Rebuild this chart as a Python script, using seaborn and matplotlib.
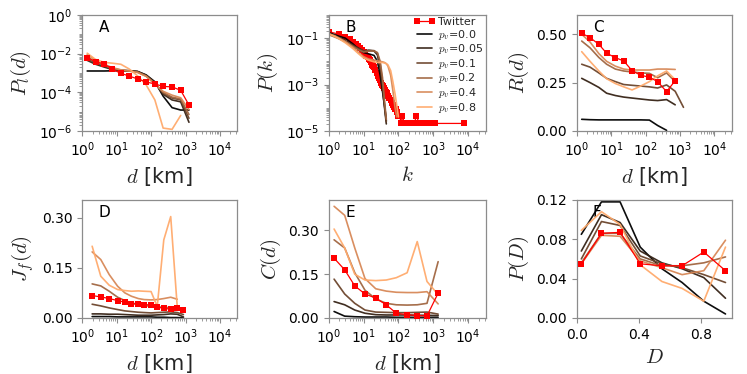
import numpy as np
import matplotlib
matplotlib.use("Agg")
import matplotlib.pyplot as plt
import seaborn as sns
from matplotlib.ticker import LogLocator, NullFormatter

# ---- data ----
pv_labels = ["0.0", "0.05", "0.1", "0.2", "0.4", "0.8"]

# A: link length distribution P_l(d)
dA = [1.4, 2.44, 4.4, 7.4, 13.3, 23.2, 40.5, 72, 129, 224, 407, 724, 1260]
twA = [6.2e-3, 3.8e-3, 2.9e-3, 1.6e-3, 9.5e-4, 6.9e-4, 4.9e-4, 3.4e-4, 2.7e-4, 2.0e-4, 1.9e-4, 1.26e-4, 2.2e-5]
mA_00 = [1.26e-3, 1.26e-3, 1.26e-3, 1.29e-3, 1.32e-3, 1.32e-3, 1.2e-3, 7.9e-4, 3.5e-4, 6.3e-5, 1.6e-5, 1.2e-5, 1.2e-5]
mA_005 = [4.47e-3, 2.82e-3, 2.0e-3, 1.51e-3, 1.32e-3, 1.26e-3, 1.17e-3, 7.6e-4, 3.2e-4, 7.9e-5, 4.0e-5, 3.2e-5, 2.8e-6]
mA_01 = [5.2e-3, 3.3e-3, 2.3e-3, 1.62e-3, 1.38e-3, 1.26e-3, 1.15e-3, 7.2e-4, 3.0e-4, 8.9e-5, 5.0e-5, 4.0e-5, 4.5e-6]
mA_02 = [6.6e-3, 3.8e-3, 2.5e-3, 1.74e-3, 1.41e-3, 1.26e-3, 1.10e-3, 6.9e-4, 2.8e-4, 1.0e-4, 5.6e-5, 4.5e-5, 7.1e-6]
mA_04 = [8.9e-3, 4.5e-3, 2.8e-3, 1.9e-3, 1.45e-3, 1.26e-3, 1.05e-3, 6.6e-4, 2.6e-4, 1.12e-4, 7.1e-5, 5.2e-5, 1.26e-5]
mA_08 = [1.05e-2, 5.0e-3, 3.5e-3, 3.2e-3, 2.8e-3, 1.6e-3, 7.1e-4, 2.4e-4, 4.0e-5, 1.4e-6, 1.2e-6, 6.3e-6]

# B: degree distribution P(k)
kB = [1, 2, 3, 4, 5, 6, 7, 8, 9, 10, 11, 12, 13, 14, 15, 16, 17, 18, 19, 20,
      22, 24, 26, 28, 30, 32, 34, 36, 38, 40, 43, 46, 50, 55, 60, 65, 70, 75,
      80, 85, 90, 95, 100, 110, 120, 130, 150, 170, 200, 240, 280, 330, 400,
      480, 560, 650, 800, 950, 1100, 7800]
twB = [0.19, 0.148, 0.117, 0.095, 0.071, 0.056, 0.047, 0.038, 0.032, 0.025,
       0.021, 0.0174, 0.0148, 0.0126, 0.011, 0.0095, 0.0083, 0.0072, 0.0063, 0.0055,
       0.0042, 0.0032, 0.0024, 0.0019, 0.0015, 0.0012, 0.001, 8.3e-4, 7.1e-4, 6.0e-4,
       5.0e-4, 4.2e-4, 3.3e-4, 2.6e-4, 2.1e-4, 1.66e-4, 1.32e-4, 1.07e-4,
       8.5e-5, 8.5e-5, 6.3e-5, 4.2e-5, 4.2e-5, 4.2e-5, 2.1e-5, 4.2e-5, 2.1e-5, 2.1e-5,
       2.1e-5, 2.1e-5, 2.1e-5, 4.2e-5, 2.1e-5, 2.1e-5, 2.1e-5, 2.1e-5, 2.1e-5,
       2.1e-5, 2.1e-5, 2.1e-5]
kM = [1, 1.5, 2, 3, 5, 7, 10, 14, 20, 25, 30, 35, 40, 45, 50, 60, 70, 80, 90, 100]
mB_00 = [0.174, 0.141, 0.120, 0.100, 0.056, 0.035, 0.024, 0.021, 0.018, 0.010, 2.5e-3, 5.0e-4, 1.26e-4, 2.8e-5]
mB_005 = [0.158, 0.126, 0.107, 0.079, 0.050, 0.038, 0.028, 0.030, 0.028, 0.019, 5.0e-3, 6.3e-4, 1.0e-4, 2.0e-5]
mB_01 = [0.151, 0.120, 0.100, 0.074, 0.047, 0.035, 0.0275, 0.0295, 0.029, 0.022, 7.9e-3, 1.26e-3, 1.26e-4, 2.5e-5]
mB_02 = [0.141, 0.112, 0.093, 0.069, 0.043, 0.032, 0.025, 0.0275, 0.028, 0.024, 0.010, 2.0e-3, 2.0e-4, 3.2e-5]
mB_04 = [0.158, 0.126, 0.100, 0.071, 0.040, 0.025, 0.016, 0.0126, 0.0112, 0.0105, 0.010, 9.5e-3,
         8.9e-3, 7.9e-3, 6.3e-3, 2.5e-3, 5.0e-4, 1.0e-4, 4.0e-5]
mB_08 = [0.151, 0.117, 0.093, 0.063, 0.035, 0.022, 0.014, 0.0112, 0.0095, 0.0089, 0.0089, 0.0089,
         0.0085, 0.0079, 0.0071, 4.0e-3, 1.26e-3, 4.0e-4, 1.26e-4, 4.0e-5]

# C: R(d)
twC = [0.505, 0.483, 0.448, 0.402, 0.379, 0.362, 0.312, 0.288, 0.278, 0.255, 0.203, 0.260]
mC_00 = [0.060, 0.058, 0.057, 0.057, 0.057, 0.057, 0.057, 0.057, 0.056, 0.028, 0.003]
mC_005 = [0.272, 0.250, 0.225, 0.195, 0.183, 0.175, 0.170, 0.165, 0.160, 0.157, 0.162, 0.135]
mC_01 = [0.345, 0.330, 0.300, 0.272, 0.255, 0.240, 0.236, 0.232, 0.228, 0.222, 0.238, 0.205, 0.122]
mC_02 = [0.465, 0.430, 0.380, 0.345, 0.320, 0.310, 0.305, 0.300, 0.298, 0.275, 0.300, 0.255]
mC_04 = [0.500, 0.460, 0.400, 0.360, 0.335, 0.320, 0.315, 0.315, 0.315, 0.320, 0.320, 0.318]
mC_08 = [0.410, 0.360, 0.310, 0.270, 0.245, 0.228, 0.212, 0.232, 0.255, 0.285, 0.310, 0.265]

# D: J_f(d)
dD = [1.95, 3.47, 6.1, 10.7, 17.4, 26.9, 42.7, 63, 100, 151, 234, 372, 575, 871]
twD = [0.067, 0.063, 0.058, 0.052, 0.047, 0.043, 0.041, 0.040, 0.039, 0.032, 0.029, 0.026, 0.029, 0.025]
mD_00 = [0.004, 0.004, 0.004, 0.003, 0.003, 0.003, 0.003, 0.003, 0.003, 0.002, 0.002, 0.001, 0.001, 0.0]
mD_005 = [0.012, 0.012, 0.011, 0.011, 0.010, 0.009, 0.008, 0.008, 0.008, 0.009, 0.010, 0.012, 0.011, 0.003]
mD_01 = [0.041, 0.036, 0.030, 0.025, 0.021, 0.019, 0.017, 0.016, 0.015, 0.016, 0.017, 0.018, 0.016, 0.010]
mD_02 = [0.102, 0.096, 0.080, 0.062, 0.052, 0.045, 0.040, 0.037, 0.035, 0.033, 0.032, 0.030, 0.029, 0.028]
mD_04 = [0.198, 0.175, 0.130, 0.095, 0.075, 0.065, 0.058, 0.055, 0.054, 0.055, 0.058, 0.062, 0.056]
mD_08 = [0.215, 0.125, 0.098, 0.085, 0.082, 0.080, 0.081, 0.080, 0.079, 0.034, 0.234, 0.304, 0.034]

# E: C(d)
dE = [1.43, 2.88, 5.6, 11.0, 22.4, 44.7, 87, 178, 347, 661, 1380]
twE = [0.205, 0.165, 0.110, 0.082, 0.068, 0.045, 0.016, 0.011, 0.008, 0.007, 0.085]
mE_00 = [0.022, 0.006, 0.004, 0.003, 0.003, 0.003, 0.002, 0.002, 0.002, 0.002, 0.002]
mE_005 = [0.056, 0.045, 0.027, 0.016, 0.011, 0.010, 0.010, 0.010, 0.009, 0.009, 0.008]
mE_01 = [0.133, 0.082, 0.050, 0.027, 0.020, 0.019, 0.018, 0.018, 0.019, 0.020, 0.013]
mE_02 = [0.268, 0.240, 0.155, 0.095, 0.065, 0.050, 0.045, 0.044, 0.045, 0.050, 0.193]
mE_04 = [0.383, 0.352, 0.240, 0.135, 0.100, 0.092, 0.088, 0.087, 0.087, 0.090, 0.048]
mE_08 = [0.305, 0.240, 0.150, 0.130, 0.128, 0.130, 0.138, 0.155, 0.262, 0.125, 0.080]

# F: P(D)
xF = [0.03, 0.16, 0.28, 0.41, 0.55, 0.68, 0.82, 0.96]
twF = [0.055, 0.086, 0.087, 0.055, 0.053, 0.053, 0.067, 0.048]
mF_00 = [0.085, 0.118, 0.118, 0.072, 0.050, 0.036, 0.017, 0.004]
mF_005 = [0.068, 0.105, 0.097, 0.068, 0.056, 0.050, 0.041, 0.020]
mF_01 = [0.060, 0.098, 0.094, 0.063, 0.055, 0.051, 0.044, 0.036]
mF_02 = [0.056, 0.086, 0.086, 0.060, 0.053, 0.053, 0.056, 0.062]
mF_04 = [0.055, 0.084, 0.083, 0.058, 0.051, 0.044, 0.048, 0.079]
mF_08 = [0.089, 0.108, 0.095, 0.054, 0.037, 0.030, 0.017, 0.072]

# ---- style ----
sns.set_style("ticks")
plt.rcParams.update({
    "font.family": ["DejaVu Sans"],
    "mathtext.fontset": "cm",
    "axes.edgecolor": "0.55",
    "xtick.color": "0.55",
    "ytick.color": "0.55",
    "xtick.labelcolor": "black",
    "ytick.labelcolor": "black",
    "xtick.labelsize": 10,
    "ytick.labelsize": 10,
    "axes.labelsize": 15,
    "axes.linewidth": 0.9,
})

colores = [plt.cm.copper(v) for v in [0.0, 0.17, 0.34, 0.51, 0.68, 0.85]]

fig, axes = plt.subplots(2, 3, figsize=(7.47, 3.74), dpi=100)
posiciones = [
    [[0.110, 0.650, 0.2075, 0.310], [0.440, 0.650, 0.210, 0.310], [0.772, 0.650, 0.2075, 0.310]],
    [[0.110, 0.150, 0.2075, 0.3155], [0.440, 0.150, 0.210, 0.3155], [0.772, 0.150, 0.2075, 0.3155]],
]
for i in range(2):
    for j in range(3):
        axes[i, j].set_position(posiciones[i][j])


def dibujar(ax, x_tw, tw, x_m, modelos, tw_z=3, etiquetas=False):
    sns.lineplot(x=x_tw[:len(tw)], y=tw, ax=ax, color="red", lw=0.9, marker="s",
                 markersize=5, markeredgewidth=0, zorder=tw_z,
                 label="Twitter" if etiquetas else None)
    for m, c, lab in zip(modelos, colores, pv_labels):
        sns.lineplot(x=x_m[:len(m)], y=m, ax=ax, color=c, lw=1.2, alpha=0.95, zorder=2,
                     label=(r"$p_v$=" + lab) if etiquetas else None)


def eje_log_x(ax):
    ax.set_xscale("log")
    ax.set_xlim(1, 10 ** 4.5)
    ax.set_xticks([1, 10, 100, 1000, 10000])
    ax.xaxis.set_minor_locator(LogLocator(base=10, subs=np.arange(2, 10), numticks=100))
    ax.xaxis.set_minor_formatter(NullFormatter())


def eje_log_y(ax, lim, ticks):
    ax.set_yscale("log")
    ax.set_ylim(*lim)
    ax.set_yticks(ticks)
    ax.yaxis.set_minor_locator(LogLocator(base=10, subs=np.arange(1, 10), numticks=100))
    ax.yaxis.set_minor_formatter(NullFormatter())


# A
ax = axes[0, 0]
dibujar(ax, dA, twA, dA, [mA_00, mA_005, mA_01, mA_02, mA_04, mA_08])
eje_log_x(ax)
eje_log_y(ax, (1e-6, 1), [1e-6, 1e-4, 1e-2, 1])
ax.set_xlabel("$d$ [km]")
ax.set_ylabel("$P_l(d)$")

# B
ax = axes[0, 1]
dibujar(ax, kB, twB, kM, [mB_00, mB_005, mB_01, mB_02, mB_04, mB_08], tw_z=1, etiquetas=True)
eje_log_x(ax)
eje_log_y(ax, (1e-5, 1), [1e-5, 1e-3, 1e-1])
ax.set_xlabel("$k$")
ax.set_ylabel("$P(k)$")
ax.legend(loc="upper right", fontsize=8, frameon=False, numpoints=2,
          labelspacing=0.05, handlelength=2.0, handletextpad=0.2,
          borderpad=0.1, borderaxespad=0.1)

# C
ax = axes[0, 2]
dibujar(ax, dA, twC, dA, [mC_00, mC_005, mC_01, mC_02, mC_04, mC_08])
eje_log_x(ax)
ax.set_ylim(0, 0.6)
ax.set_yticks([0, 0.25, 0.5])
ax.set_yticklabels(["0.00", "0.25", "0.50"])
ax.set_xlabel("$d$ [km]")
ax.set_ylabel("$R(d)$")

# D
ax = axes[1, 0]
dibujar(ax, dD, twD, dD, [mD_00, mD_005, mD_01, mD_02, mD_04, mD_08])
eje_log_x(ax)
ax.set_ylim(0, 0.354)
ax.set_yticks([0, 0.15, 0.30])
ax.set_yticklabels(["0.00", "0.15", "0.30"])
ax.set_xlabel("$d$ [km]")
ax.set_ylabel("$J_f(d)$")

# E
ax = axes[1, 1]
dibujar(ax, dE, twE, dE, [mE_00, mE_005, mE_01, mE_02, mE_04, mE_08])
eje_log_x(ax)
ax.set_ylim(0, 0.405)
ax.set_yticks([0, 0.15, 0.30])
ax.set_yticklabels(["0.00", "0.15", "0.30"])
ax.set_xlabel("$d$ [km]")
ax.set_ylabel("$C(d)$")

# F
ax = axes[1, 2]
dibujar(ax, xF, twF, xF, [mF_00, mF_005, mF_01, mF_02, mF_04, mF_08])
ax.set_xlim(0, 1.0)
ax.set_ylim(0, 0.12)
ax.set_xticks([0, 0.4, 0.8])
ax.set_xticklabels(["0.0", "0.4", "0.8"])
ax.set_yticks([0, 0.04, 0.08, 0.12])
ax.set_yticklabels(["0.00", "0.04", "0.08", "0.12"])
ax.set_xlabel("$D$")
ax.set_ylabel("$P(D)$")

for ax, letra in zip(axes.flat, "ABCDEF"):
    ax.text(0.105, 0.96, letra, transform=ax.transAxes, ha="left", va="top",
            fontsize=11, color="black", zorder=1)

fig.savefig("out.png", dpi=100)
